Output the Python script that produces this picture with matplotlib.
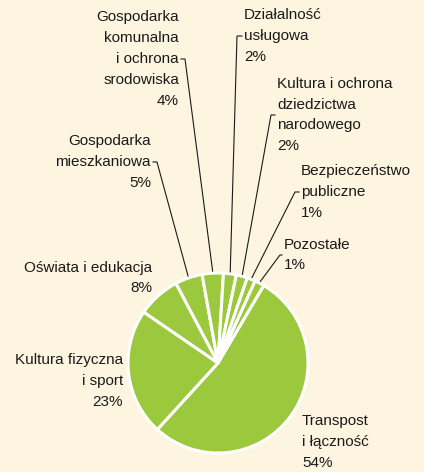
import numpy as np
import matplotlib
matplotlib.use("Agg")
import matplotlib.pyplot as plt

plt.rcParams['font.family'] = ['Liberation Sans', 'DejaVu Sans']

# data (shares, labels as printed)
labels = ["Transpost\ni łączność", "Kultura fizyczna\ni sport", "Oświata i edukacja",
          "Gospodarka\nmieszkaniowa", "Gospodarka\nkomunalna\ni ochrona\nsrodowiska",
          "Działalność\nusługowa", "Kultura i ochrona\ndziedzictwa\nnarodowego",
          "Bezpieczeństwo\npubliczne", "Pozostałe"]
percent_labels = ["54%", "23%", "8%", "5%", "4%", "2%", "2%", "1%", "1%"]
shares = [53.3, 22.8, 7.7, 4.9, 3.8, 2.3, 2.0, 1.5, 1.7]

bg = '#FDF5DF'
green = '#9BC83D'
W, H = 424, 472

fig = plt.figure(figsize=(W / 100, H / 100), dpi=100, facecolor=bg)
ax = fig.add_axes([0, 0, 1, 1])
ax.set_facecolor(bg)

def Y(py):
    # pixel row -> data y
    return H - py

cx, cy, r = 218, Y(363), 90
wedges, _ = ax.pie(shares, colors=[green] * len(shares), startangle=59.5,
                   counterclock=False, center=(cx, cy), radius=r,
                   wedgeprops=dict(edgecolor='white', linewidth=2.2))
ax.set_xlim(0, W)
ax.set_ylim(0, H)
ax.set_aspect('equal')
ax.axis('off')

# label layout: (x, y_center, ha, tick_x or None)
layout = [
    (302, 442, 'left', None),
    (123, 381, 'right', None),
    (152, 278, 'right', None),
    (151, 162, 'right', 157),
    (179, 59, 'right', 185),
    (244, 36, 'left', 237),
    (277, 115, 'left', 271),
    (301, 192, 'left', 295),
    (284, 255, 'left', 280),
]

for w, lab, pct, (tx, ty, ha, tick) in zip(wedges, labels, percent_labels, layout):
    ax.text(tx, Y(ty), lab + "\n" + pct, ha=ha, va='center', fontsize=11,
            linespacing=1.62, color='#1a1a1a',
            multialignment=ha)
    if tick is not None:
        mid = np.deg2rad((w.theta1 + w.theta2) / 2)
        ax_ = cx + (r + 2) * np.cos(mid)
        ay_ = cy + (r + 2) * np.sin(mid)
        side = tx + (2 if ha == 'right' else -2)
        ax.plot([side, tick, ax_], [Y(ty), Y(ty), ay_], color='#1a1a1a', lw=0.8,
                solid_joinstyle='miter')

fig.savefig("out.png", dpi=100, facecolor=bg)
